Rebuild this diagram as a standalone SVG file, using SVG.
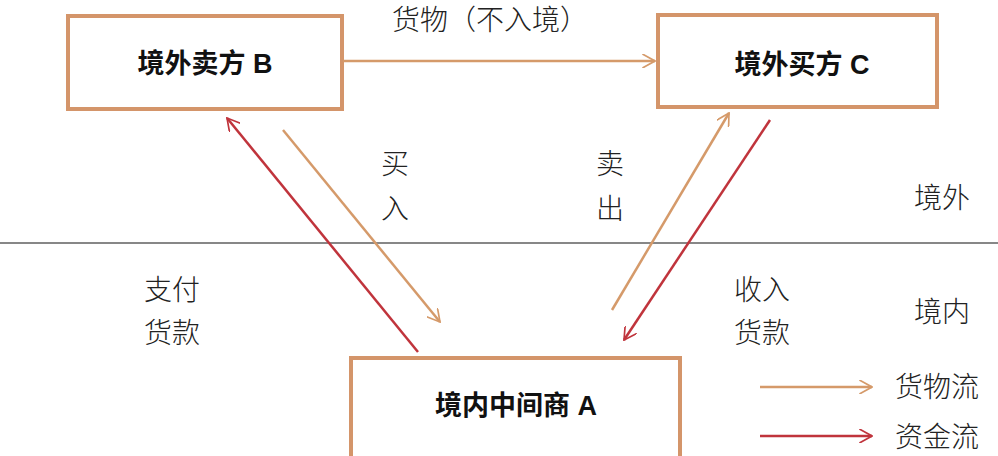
<svg xmlns="http://www.w3.org/2000/svg" width="998" height="456" viewBox="0 0 998 456">
<style>
.box{fill:#fff;stroke:#d4956a;stroke-width:4}
.bt{font-family:"Liberation Sans","Noto Sans CJK SC",sans-serif;font-weight:bold;font-size:27px;fill:#111;text-anchor:middle}
.t{font-family:"Noto Sans CJK SC",sans-serif;font-weight:300;font-size:28px;fill:#222;text-anchor:middle}
.g{stroke:#d59a6a;stroke-width:2.5;fill:none}
.r{stroke:#c0343c;stroke-width:2.5;fill:none}
</style>
<defs>
<marker id="agl" viewBox="0 0 10 10" refX="9" refY="5" markerWidth="14" markerHeight="14" orient="auto" markerUnits="userSpaceOnUse"><path d="M0,0 L9,5 L0,10" fill="none" stroke="#d59a6a" stroke-width="1.2"/></marker>
<marker id="arl" viewBox="0 0 10 10" refX="9" refY="5" markerWidth="14" markerHeight="14" orient="auto" markerUnits="userSpaceOnUse"><path d="M0,0 L9,5 L0,10" fill="none" stroke="#c0343c" stroke-width="1.2"/></marker>
</defs>
<line x1="0" y1="243" x2="998" y2="243" stroke="#111" stroke-width="1.2"/>
<g id="nodeB"><rect class="box" x="68" y="16" width="274" height="93"/><text class="bt" x="205" y="73">境外卖方 B</text></g>
<g id="nodeC"><rect class="box" x="658" y="15" width="279" height="92"/><text class="bt" x="802" y="74">境外买方 C</text></g>
<g id="nodeA"><rect class="box" x="351" y="358" width="329" height="100"/><text class="bt" x="516" y="415">境内中间商 A</text></g>
<g id="connectors">
<line class="g" x1="343" y1="61" x2="655" y2="61" marker-end="url(#agl)"/>
<line class="g" x1="283" y1="130" x2="440" y2="322" marker-end="url(#agl)"/>
<line class="r" x1="418" y1="352" x2="227" y2="118" marker-end="url(#arl)"/>
<line class="g" x1="612" y1="310" x2="729" y2="113" marker-end="url(#agl)"/>
<line class="r" x1="770" y1="120" x2="624" y2="340" marker-end="url(#arl)"/>
</g>
<g id="labels">
<text class="t" x="490" y="30">货物（不入境）</text>
<text class="t" x="395" y="174">买</text><text class="t" x="395" y="219">入</text>
<text class="t" x="610" y="174">卖</text><text class="t" x="610" y="219">出</text>
<text class="t" x="942" y="208">境外</text><text class="t" x="942" y="322">境内</text>
<text class="t" x="172" y="300">支付</text><text class="t" x="172" y="343">货款</text>
<text class="t" x="762" y="300">收入</text><text class="t" x="762" y="343">货款</text>
</g>
<g id="legend">
<line class="g" x1="760" y1="387" x2="872" y2="387" stroke-width="2" marker-end="url(#agl)"/>
<line class="r" x1="760" y1="436" x2="872" y2="436" stroke-width="2" marker-end="url(#arl)"/>
<text class="t" x="937" y="397">货物流</text>
<text class="t" x="937" y="447">资金流</text>
</g>
</svg>
